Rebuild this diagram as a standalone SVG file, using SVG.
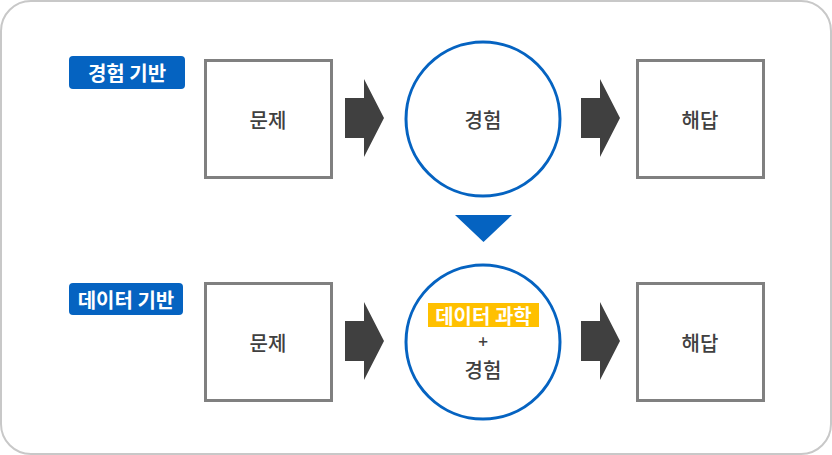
<svg xmlns="http://www.w3.org/2000/svg" width="832" height="455" viewBox="0 0 832 455">
<defs>
<style>
.frame{fill:#fff;stroke:#c8c8c8;stroke-width:2}
.box{fill:#fff;stroke:#808080;stroke-width:3}
.circ{fill:#fff;stroke:#0563c1;stroke-width:3}
.tag{fill:#0563c1}
.arrow{fill:#404040}
.t{font-family:"Noto Sans CJK KR","Noto Sans",sans-serif;font-size:20px;fill:#404040;text-anchor:middle;dominant-baseline:central;font-weight:500}
.tw{font-family:"Noto Sans CJK KR","Noto Sans",sans-serif;font-size:20px;fill:#fff;text-anchor:middle;dominant-baseline:central;font-weight:700}
</style>
<path id="arr" d="M0,-20 L19,-20 L19,-39 L39,0 L19,39 L19,20 L0,20 Z"/>
</defs>
<rect class="frame" x="1" y="1" width="830" height="453" rx="30"/>
<g id="label-top">
<rect class="tag" x="69" y="56" width="116" height="33" rx="4"/>
<text class="tw" x="127" y="72">경험 기반</text>
</g>
<g id="label-bottom">
<rect class="tag" x="69" y="283" width="114" height="32" rx="4"/>
<text class="tw" x="126" y="299">데이터 기반</text>
</g>
<g id="problem1">
<rect class="box" x="205.5" y="60.5" width="126" height="117"/>
<text class="t" x="268" y="119">문제</text>
</g>
<g id="experience1">
<circle class="circ" cx="483" cy="119" r="77"/>
<text class="t" x="483" y="119">경험</text>
</g>
<g id="answer1">
<rect class="box" x="637.5" y="60.5" width="126" height="117"/>
<text class="t" x="700" y="119">해답</text>
</g>
<g id="problem2">
<rect class="box" x="205.5" y="283.5" width="126" height="117"/>
<text class="t" x="268" y="342">문제</text>
</g>
<g id="experience2">
<circle class="circ" cx="483" cy="342" r="77"/>
<rect x="428" y="303" width="111" height="24" fill="#ffc000"/>
<text class="tw" x="483.5" y="315">데이터 과학</text>
<text class="t" x="483" y="340" style="font-size:17px">+</text>
<text class="t" x="483" y="369">경험</text>
</g>
<g id="answer2">
<rect class="box" x="637.5" y="283.5" width="126" height="117"/>
<text class="t" x="700" y="342">해답</text>
</g>
<g id="connectors">
<use href="#arr" class="arrow" x="345" y="118"/>
<use href="#arr" class="arrow" x="581" y="118"/>
<use href="#arr" class="arrow" x="345" y="341"/>
<use href="#arr" class="arrow" x="581" y="341"/>
<polygon points="455,215 512,215 483.5,242" fill="#0563c1"/>
</g>
</svg>
